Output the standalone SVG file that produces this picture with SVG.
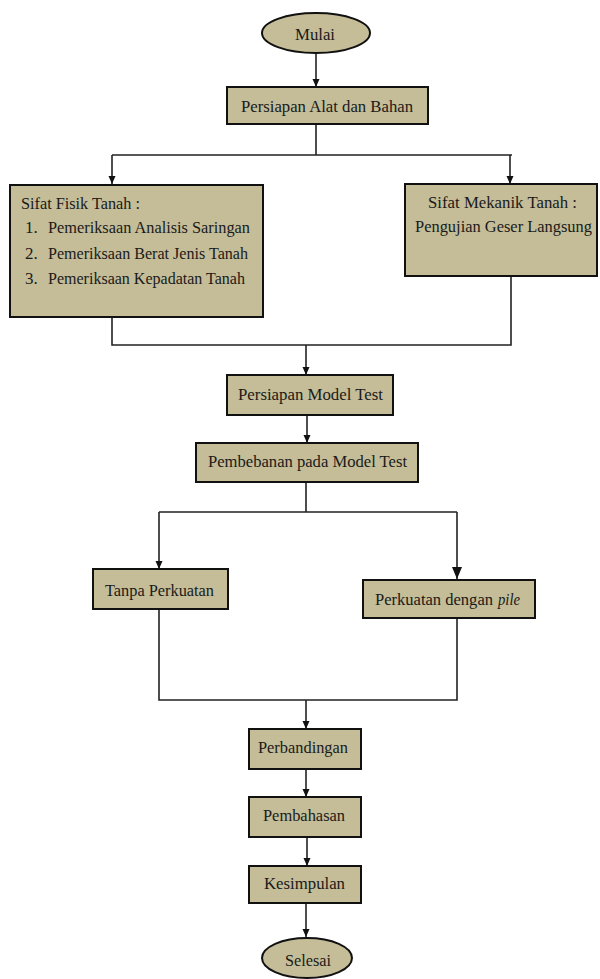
<svg xmlns="http://www.w3.org/2000/svg" width="600" height="979" viewBox="0 0 600 979">
<defs>
<marker id="ah" markerWidth="8" markerHeight="8" refX="8" refY="3.5" orient="auto" markerUnits="userSpaceOnUse">
<path d="M0,0 L8,3.5 L0,7 z" fill="#111"/>
</marker>
<marker id="ahb" markerWidth="12" markerHeight="10" refX="12" refY="5" orient="auto" markerUnits="userSpaceOnUse">
<path d="M0,0 L12,5 L0,10 z" fill="#111"/>
</marker>
<style>
.box{fill:#c4bd97;stroke:#111;stroke-width:2}
.ln{fill:none;stroke:#222;stroke-width:1.6}
.c{text-anchor:middle}
</style>
</defs>
<rect width="600" height="979" fill="#fff"/>
<g id="connectors">
<path class="ln" d="M316,53 V87" marker-end="url(#ah)"/>
<path class="ln" d="M316,124 V155 M112,155 H512"/>
<path class="ln" d="M112,155 V184" marker-end="url(#ah)"/>
<path class="ln" d="M510,155 V184" marker-end="url(#ah)"/>
<path class="ln" d="M112,317 V345 H511 V276"/>
<path class="ln" d="M306,345 V375" marker-end="url(#ah)"/>
<path class="ln" d="M307,415 V443" marker-end="url(#ah)"/>
<path class="ln" d="M306,482 V512 M159,512 H457"/>
<path class="ln" d="M159,512 V569" marker-end="url(#ah)"/>
<path class="ln" d="M457,512 V579" marker-end="url(#ahb)"/>
<path class="ln" d="M159,609 V700 H457 V618"/>
<path class="ln" d="M306,700 V729" marker-end="url(#ah)"/>
<path class="ln" d="M306,769 V797" marker-end="url(#ah)"/>
<path class="ln" d="M307,837 V866" marker-end="url(#ah)"/>
<path class="ln" d="M306,903 V937" marker-end="url(#ah)"/>
</g>
<g font-family="Liberation Serif, DejaVu Serif, serif" font-size="17" fill="#1a1a1a">
<g id="mulai">
<ellipse class="box" cx="316" cy="33" rx="54" ry="20"/>
<text class="c" x="315" y="40" textLength="40" lengthAdjust="spacingAndGlyphs">Mulai</text>
</g>
<g id="persiapan-alat">
<rect class="box" x="227" y="87" width="201" height="37"/>
<text x="241" y="112" textLength="172" lengthAdjust="spacingAndGlyphs">Persiapan Alat dan Bahan</text>
</g>
<g id="sifat-fisik">
<rect class="box" x="10" y="185" width="253" height="132"/>
<text x="21" y="209" textLength="119" lengthAdjust="spacingAndGlyphs">Sifat Fisik Tanah :</text>
<text x="25" y="233">1.</text>
<text x="48" y="233" textLength="202" lengthAdjust="spacingAndGlyphs">Pemeriksaan Analisis Saringan</text>
<text x="25" y="259">2.</text>
<text x="48" y="259" textLength="200" lengthAdjust="spacingAndGlyphs">Pemeriksaan Berat Jenis Tanah</text>
<text x="25" y="284">3.</text>
<text x="48" y="284" textLength="197" lengthAdjust="spacingAndGlyphs">Pemeriksaan Kepadatan Tanah</text>
</g>
<g id="sifat-mekanik">
<rect class="box" x="405" y="184" width="192" height="92"/>
<text x="428" y="208" textLength="149" lengthAdjust="spacingAndGlyphs">Sifat Mekanik Tanah :</text>
<text x="415" y="232" textLength="177" lengthAdjust="spacingAndGlyphs">Pengujian Geser Langsung</text>
</g>
<g id="persiapan-model">
<rect class="box" x="227" y="375" width="166" height="40"/>
<text x="238" y="400" textLength="145" lengthAdjust="spacingAndGlyphs">Persiapan Model Test</text>
</g>
<g id="pembebanan">
<rect class="box" x="196" y="443" width="222" height="39"/>
<text x="208" y="467" textLength="199" lengthAdjust="spacingAndGlyphs">Pembebanan pada Model Test</text>
</g>
<g id="tanpa-perkuatan">
<rect class="box" x="93" y="569" width="135" height="40"/>
<text x="105" y="596" textLength="109" lengthAdjust="spacingAndGlyphs">Tanpa Perkuatan</text>
</g>
<g id="perkuatan-pile">
<rect class="box" x="363" y="580" width="172" height="38"/>
<text x="375" y="605" textLength="118" lengthAdjust="spacingAndGlyphs">Perkuatan dengan</text>
<text x="498" y="605" font-style="italic" textLength="22" lengthAdjust="spacingAndGlyphs">pile</text>
</g>
<g id="perbandingan">
<rect class="box" x="249" y="729" width="112" height="40"/>
<text x="258" y="753" textLength="90" lengthAdjust="spacingAndGlyphs">Perbandingan</text>
</g>
<g id="pembahasan">
<rect class="box" x="249" y="797" width="112" height="40"/>
<text x="263" y="821" textLength="82" lengthAdjust="spacingAndGlyphs">Pembahasan</text>
</g>
<g id="kesimpulan">
<rect class="box" x="249" y="866" width="112" height="37"/>
<text x="264" y="889" textLength="81" lengthAdjust="spacingAndGlyphs">Kesimpulan</text>
</g>
<g id="selesai">
<ellipse class="box" cx="307" cy="958" rx="45" ry="20"/>
<text class="c" x="308" y="966" textLength="46" lengthAdjust="spacingAndGlyphs">Selesai</text>
</g>
</g>
</svg>
